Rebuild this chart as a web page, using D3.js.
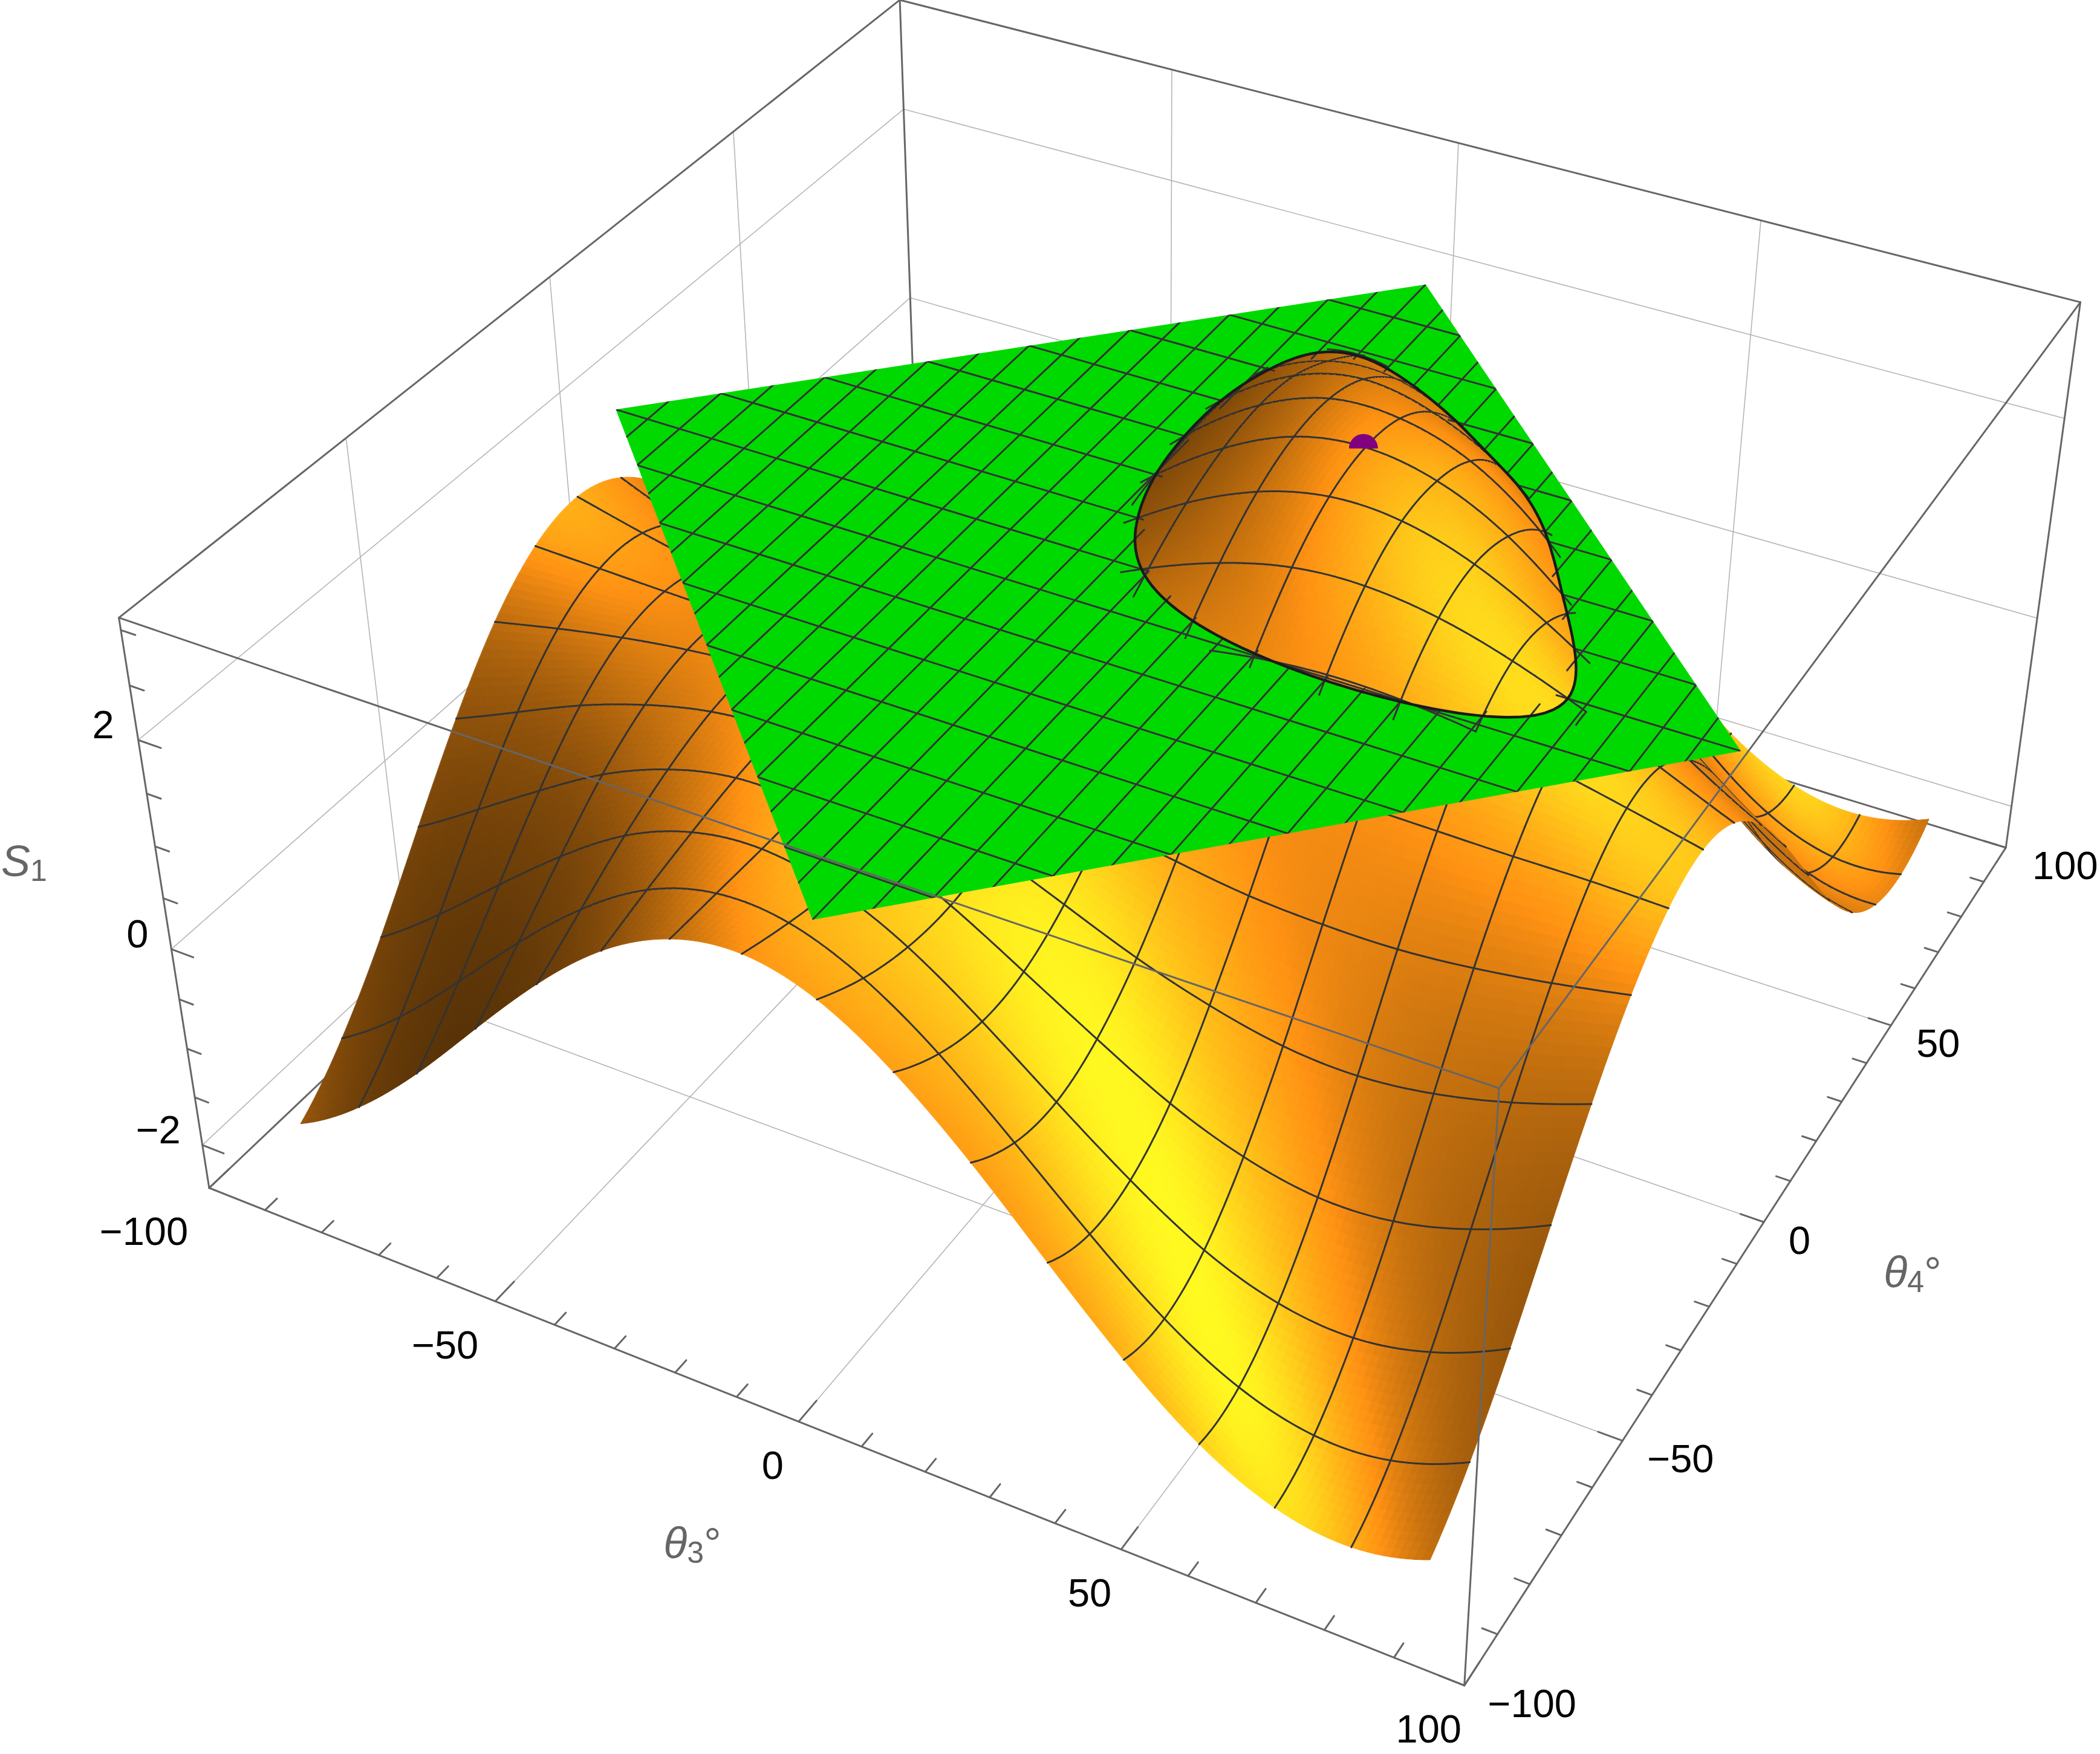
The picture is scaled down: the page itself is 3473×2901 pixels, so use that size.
<!DOCTYPE html>
<html>
<head>
<meta charset="utf-8">
<script src="https://cdnjs.cloudflare.com/ajax/libs/d3/7.8.5/d3.min.js"></script>
<style>
body { margin: 0; background: #fff; }
text { font-family: "Liberation Sans", Arial, sans-serif; }
</style>
</head>
<body>
<svg id="chart" width="3473" height="2901"></svg>
<script>
var W = 3473, H = 2901;

var zLimits = [-2.455, 3.11];
var thetaNodes = [-90, -78.75, -67.5, -56.25, -45, -33.75, -22.5, -11.25, 0, 11.25, 22.5, 33.75, 45, 56.25, 67.5, 78.75, 90];
var thetaTicksMajor = [-100, -50, 0, 50, 100];
var thetaTicksMinor = [-100, -90, -80, -70, -60, -50, -40, -30, -20, -10, 0, 10, 20, 30, 40, 50, 60, 70, 80, 90, 100];
var zTicksMajor = [-2, 0, 2];
var zTicksMinor = [-2, -1.5, -1, -0.5, 0, 0.5, 1, 1.5, 2, 2.5, 3];
var gridThetas = [-50, 0, 50];

// S1, one row per theta4 node, one column per theta3 node
var S1 = [
  [-1.97, -1.54, -0.94, -0.24, 0.44, 1.00, 1.35, 1.45, 1.27, 0.84, 0.24, -0.46, -1.14, -1.70, -2.05, -2.15, -1.97],
  [-1.54, -1.07, -0.47, 0.16, 0.72, 1.14, 1.34, 1.30, 1.02, 0.55, -0.05, -0.68, -1.25, -1.66, -1.86, -1.82, -1.54],
  [-0.94, -0.47, 0.06, 0.57, 1.00, 1.26, 1.33, 1.19, 0.87, 0.40, -0.13, -0.64, -1.07, -1.33, -1.40, -1.26, -0.94],
  [-0.24, 0.16, 0.57, 0.95, 1.22, 1.36, 1.33, 1.14, 0.83, 0.43, 0.02, -0.36, -0.63, -0.77, -0.74, -0.55, -0.24],
  [0.44, 0.72, 1.00, 1.22, 1.37, 1.41, 1.33, 1.16, 0.92, 0.64, 0.36, 0.14, -0.01, -0.05, 0.03, 0.20, 0.44],
  [1.01, 1.15, 1.27, 1.36, 1.41, 1.40, 1.35, 1.25, 1.12, 0.98, 0.86, 0.76, 0.72, 0.72, 0.78, 0.88, 1.01],
  [1.38, 1.36, 1.34, 1.33, 1.34, 1.35, 1.36, 1.38, 1.40, 1.42, 1.43, 1.43, 1.42, 1.41, 1.40, 1.40, 1.38],
  [1.50, 1.34, 1.21, 1.15, 1.17, 1.25, 1.38, 1.55, 1.72, 1.87, 1.98, 2.03, 2.01, 1.93, 1.81, 1.66, 1.50],
  [1.33, 1.07, 0.89, 0.84, 0.92, 1.12, 1.40, 1.72, 2.03, 2.28, 2.44, 2.47, 2.38, 2.19, 1.93, 1.63, 1.33],
  [0.89, 0.59, 0.42, 0.44, 0.64, 0.98, 1.42, 1.87, 2.28, 2.58, 2.73, 2.70, 2.50, 2.16, 1.73, 1.29, 0.89],
  [0.26, -0.03, -0.12, 0.02, 0.37, 0.86, 1.43, 1.99, 2.44, 2.74, 2.83, 2.71, 2.39, 1.87, 1.27, 0.72, 0.26],
  [-0.45, -0.67, -0.64, -0.35, 0.14, 0.77, 1.44, 2.05, 2.50, 2.75, 2.75, 2.54, 2.08, 1.37, 0.61, -0.01, -0.45],
  [-1.14, -1.24, -1.07, -0.63, -0.01, 0.72, 1.44, 2.04, 2.44, 2.59, 2.46, 2.12, 1.51, 0.66, -0.15, -0.76, -1.14],
  [-1.70, -1.66, -1.33, -0.77, -0.04, 0.72, 1.42, 1.95, 2.24, 2.25, 1.96, 1.40, 0.66, -0.18, -0.91, -1.44, -1.70],
  [-2.05, -1.86, -1.40, -0.74, 0.03, 0.78, 1.40, 1.82, 1.96, 1.77, 1.30, 0.63, -0.15, -0.91, -1.54, -1.94, -2.05],
  [-2.15, -1.82, -1.26, -0.55, 0.20, 0.87, 1.38, 1.63, 1.59, 1.26, 0.70, -0.01, -0.76, -1.44, -1.94, -2.19, -2.15],
  [-1.97, -1.54, -0.94, -0.24, 0.44, 1.00, 1.35, 1.45, 1.27, 0.84, 0.24, -0.46, -1.14, -1.70, -2.05, -2.15, -1.97]
];

var planeLevel = 2.0;
var planeCorners = [[-90, 0], [0, 90], [90, 0], [0, -90]];
var planeThetaA = d3.range(-84.375, 85, 5.625);
var planeThetaB = thetaNodes.slice(1, 16);
var markerPoint = [21, 25, 2.75];

// tweaks per tick label, Mathematica centres them a bit unevenly
var frontDx = [-108, -83, -43, -52, -59], rightDx = [112, 96, 59, 78, 98], zDx = [-73, -56, -58];
var titles = [[40, 1424, "S", "1", ""], [1145, 2552, "\u03b8", "3", "\u00b0"], [3163, 2104, "\u03b8", "4", "\u00b0"]];

// where the box corners sit in the picture, the camera is fitted to these
var boxCorners = [
  [-100, -100, zLimits[0], 346, 1965],
  [100, -100, zLimits[0], 2421.7, 2787.7],
  [100, 100, zLimits[0], 3317.3, 1401.7],
  [-100, -100, zLimits[1], 196.7, 1021.3],
  [100, -100, zLimits[1], 2479, 1800],
  [100, 100, zLimits[1], 3440.7, 500],
  [-100, 100, zLimits[1], 1488, 0]
];

function fitCamera(rows) {
  var A = [], B = [];
  rows.forEach(function(r) {
    var X = r[0] / 100, Y = r[1] / 100, Z = (r[2] - 0.3) / 2.75, x = r[3] / 1000, y = r[4] / 1000;
    A.push([X, Y, Z, 1, 0, 0, 0, 0, -x * X, -x * Y, -x * Z]); B.push(x);
    A.push([0, 0, 0, 0, X, Y, Z, 1, -y * X, -y * Y, -y * Z]); B.push(y);
  });
  var n = 11;
  var M = d3.range(n).map(function(i) {
    return d3.range(n + 1).map(function(j) {
      return d3.sum(A, function(row, k) { return row[i] * (j < n ? row[j] : B[k]); });
    });
  });
  for (var c = 0; c < n; c++) {
    var piv = c;
    for (var i = c + 1; i < n; i++) if (Math.abs(M[i][c]) > Math.abs(M[piv][c])) piv = i;
    var t = M[c]; M[c] = M[piv]; M[piv] = t;
    for (var i = 0; i < n; i++) if (i !== c) {
      var f = M[i][c] / M[c][c];
      for (var j = c; j <= n; j++) M[i][j] -= f * M[c][j];
    }
  }
  return M.map(function(r, i) { return r[n] / r[i]; });
}
var h = fitCamera(boxCorners);

function depth(a, b, z) { return h[8] * a / 100 + h[9] * b / 100 + h[10] * (z - 0.3) / 2.75 + 1; }
function project(a, b, z) {
  var X = a / 100, Y = b / 100, Z = (z - 0.3) / 2.75, w = h[8] * X + h[9] * Y + h[10] * Z + 1;
  return [1000 * (h[0] * X + h[1] * Y + h[2] * Z + h[3]) / w, 1000 * (h[4] * X + h[5] * Y + h[6] * Z + h[7]) / w];
}

function norm(v) { var l = Math.hypot(v[0], v[1], v[2]); return [v[0] / l, v[1] / l, v[2] / l]; }
function dot(u, v) { return u[0] * v[0] + u[1] * v[1] + u[2] * v[2]; }

// camera axes in box coordinates, box ratio is 1:1:0.4
var zRange = zLimits[1] - zLimits[0];
var zm = zRange / 0.4 / 2.75;
var m1 = [h[0] * 2, h[1] * 2, h[2] * zm], m2 = [h[4] * 2, h[5] * 2, h[6] * zm], m3 = [h[8] * 2, h[9] * 2, h[10] * zm];
var cx = W / 2000, cy = H / 2000;
var vRight = norm([m1[0] - cx * m3[0], m1[1] - cx * m3[1], m1[2] - cx * m3[2]]);
var vDown = norm([m2[0] - cy * m3[0], m2[1] - cy * m3[1], m2[2] - cy * m3[2]]);
var vToward = norm([-m3[0], -m3[1], -m3[2]]);

var lightPos = [2, 2, 2];
function shade(n, px, py, back) {
  var l = norm([lightPos[0] - px / W, lightPos[1] - (1 - py / H), lightPos[2]]);
  var nl = Math.max(0, dot(n, l));
  var sp = Math.pow(Math.max(0, dot(n, norm([l[0], l[1], l[2] + 1]))), 6);
  var g = 0.88 * (0.14 + 0.45 * nl + 0.4 * sp);
  if (back) g *= 0.5;
  return d3.rgb(Math.min(255, 255 * 1.75 * g), Math.min(255, 255 * g), 33 * g).formatHex();
}

// resample the table so the surface reads smooth, the table wraps every 180 degrees
var sub = 10, N = 16 * sub + 1;
function weights(i) {
  var s = i / sub, k = Math.min(Math.floor(s), 15), t = s - k, out = [];
  for (var m = -2; m <= 3; m++) {
    var w = 1;
    for (var q = -2; q <= 3; q++) if (q !== m) w *= (t - q) / (m - q);
    out.push([((k + m) % 16 + 16) % 16, w]);
  }
  return out;
}
var W6 = d3.range(N).map(weights);
var fine = new Float64Array(N * N);
for (var j = 0; j < N; j++) for (var i = 0; i < N; i++) {
  var s = 0;
  W6[j].forEach(function(wb) {
    var row = S1[wb[0]];
    W6[i].forEach(function(wa) { s += wb[1] * wa[1] * row[wa[0]]; });
  });
  fine[i + j * N] = s;
}
function fz(i, j) { return fine[i + j * N]; }
var at = d3.scaleLinear().domain([0, N - 1]).range([-90, 90]);
function fAt(a, b) {
  var x = Math.min(N - 1.001, at.invert(a)), y = Math.min(N - 1.001, at.invert(b));
  var i = Math.floor(x), j = Math.floor(y), u = x - i, v = y - j;
  return (1 - u) * (1 - v) * fz(i, j) + u * (1 - v) * fz(i + 1, j) + (1 - u) * v * fz(i, j + 1) + u * v * fz(i + 1, j + 1);
}

function surfNormal(i, j) {
  var P = N - 1, ih = i === P ? 0 : i, jh = j === P ? 0 : j;
  var dzda = (fz((ih + 1) % P, jh) - fz((ih - 1 + P) % P, jh)) / (2 * 180 / P);
  var dzdb = (fz(ih, (jh + 1) % P) - fz(ih, (jh - 1 + P) % P)) / (2 * 180 / P);
  var k = 0.4 / zRange * 200;
  return [-dzda * k, -dzdb * k, 1];
}

var svg = d3.select("#chart");
var defs = svg.append("defs");
var line = d3.line();
function poly(pts) { return line(pts) + "Z"; }

function seg(g, list, stroke, width) {
  g.selectAll("path").data(list).join("path")
    .attr("d", function(d) { return line(d); })
    .attr("fill", "none")
    .attr("stroke", stroke)
    .attr("stroke-width", width)
    .attr("stroke-linecap", "round");
}

var z0 = zLimits[0], z1 = zLimits[1];

// back walls and floor
var gridLines = [];
gridThetas.forEach(function(t) {
  gridLines.push([project(-100, t, z0), project(-100, t, z1)]);
  gridLines.push([project(t, 100, z0), project(t, 100, z1)]);
  gridLines.push([project(t, -100, z0), project(t, 100, z0)]);
  gridLines.push([project(-100, t, z0), project(100, t, z0)]);
});
zTicksMajor.forEach(function(z) {
  gridLines.push([project(-100, -100, z), project(-100, 100, z)]);
  gridLines.push([project(-100, 100, z), project(100, 100, z)]);
});
seg(svg.append("g"), gridLines, "#b5b5b5", 1.6);
seg(svg.append("g"), [
  [project(-100, -100, z1), project(-100, 100, z1), project(100, 100, z1)],
  [project(-100, 100, z1), project(-100, 100, z0)],
  [project(-100, -100, z0), project(-100, 100, z0), project(100, 100, z0)],
  [project(-100, -100, z0), project(-100, -100, z1)],
  [project(100, 100, z0), project(100, 100, z1)]
], "#666", 3);

// surface quads, far ones first
var items = [], quadW = new Float64Array(N * N), domeItems = [];
for (var j = 0; j < N - 1; j++) for (var i = 0; i < N - 1; i++) {
  var c = [[i, j], [i + 1, j], [i + 1, j + 1], [i, j + 1]];
  var pts = c.map(function(q) { return project(at(q[0]), at(q[1]), fz(q[0], q[1])); });
  var w = d3.mean(c, function(q) { return depth(at(q[0]), at(q[1]), fz(q[0], q[1])); });
  var nn = [0, 0, 0];
  c.forEach(function(q) { var v = surfNormal(q[0], q[1]); nn[0] += v[0]; nn[1] += v[1]; nn[2] += v[2]; });
  nn = norm(nn);
  var nv = [dot(nn, vRight), -dot(nn, vDown), dot(nn, vToward)];
  var back = nv[2] < 0;
  if (back) nv = [-nv[0], -nv[1], -nv[2]];
  var it = { w: w, d: poly(pts), fill: shade(nv, d3.mean(pts, function(p) { return p[0]; }), d3.mean(pts, function(p) { return p[1]; }), back) };
  items.push(it);
  quadW[i + j * N] = w;
  if (d3.max(c, function(q) { return fz(q[0], q[1]); }) > planeLevel) domeItems.push(it);
}

// mesh pieces go right after the nearer quad they touch
var meshItems = [];
for (var k = 1; k < 16; k++) {
  var f = k * sub;
  for (var m = 0; m < N - 1; m++) {
    meshItems.push({
      w: Math.min(quadW[(f - 1) + m * N], quadW[f + m * N]) - 1e-7, mesh: true,
      d: line([project(at(f), at(m), fz(f, m)), project(at(f), at(m + 1), fz(f, m + 1))]),
      top: Math.max(fz(f, m), fz(f, m + 1))
    });
    meshItems.push({
      w: Math.min(quadW[m + (f - 1) * N], quadW[m + f * N]) - 1e-7, mesh: true,
      d: line([project(at(m), at(f), fz(m, f)), project(at(m + 1), at(f), fz(m + 1, f))]),
      top: Math.max(fz(m, f), fz(m + 1, f))
    });
  }
}
function drawItems(g, list) {
  g.selectAll("path").data(list).join("path")
    .attr("d", function(d) { return d.d; })
    .attr("fill", function(d) { return d.mesh ? "none" : d.fill; })
    .attr("stroke", function(d) { return d.mesh ? "#333" : d.fill; })
    .attr("stroke-width", function(d) { return d.mesh ? 3 : 1; })
    .attr("stroke-linecap", "round");
}
function farFirst(p, q) { return q.w - p.w; }
drawItems(svg.append("g"), items.concat(meshItems).sort(farFirst));

// green plane, cut to a diamond
var planePts = planeCorners.map(function(c) { return project(c[0], c[1], planeLevel); });
defs.append("clipPath").attr("id", "planeClip").append("path").attr("d", poly(planePts));
var planeG = svg.append("g");
planeG.append("path").attr("d", poly(planePts)).attr("fill", "#00d900");
var planeMesh = [];
planeThetaA.forEach(function(t) { planeMesh.push([project(t, -100, planeLevel), project(t, 100, planeLevel)]); });
planeThetaB.forEach(function(t) { planeMesh.push([project(-100, t, planeLevel), project(100, t, planeLevel)]); });
seg(planeG.append("g").attr("clip-path", "url(#planeClip)"), planeMesh, "#333", 3);

// surface mesh stubs poking out past the rim
drawItems(svg.append("g"), meshItems.filter(function(mi) { return mi.top > planeLevel - 0.07; }));

// rim is where the surface crosses the plane
var cont = d3.contours().size([N, N]).thresholds([planeLevel])(Array.from(fine))[0];
var rimRings = [];
cont.coordinates.forEach(function(pg) {
  pg.forEach(function(ring) {
    rimRings.push(ring.map(function(p) { return project(at(p[0] - 0.5), at(p[1] - 0.5), planeLevel); }));
  });
});
var rimPath = rimRings.map(poly).join("");
defs.append("clipPath").attr("id", "rimClip").append("path").attr("d", rimPath);
var domeAll = domeItems.concat(meshItems.filter(function(mi) { return mi.top > planeLevel - 0.05; })).sort(farFirst);
drawItems(svg.append("g").attr("clip-path", "url(#rimClip)"), domeAll);

// plane mesh stubs just inside the rim
var inner = [];
function stubLine(fixA, t) {
  for (var v = -90; v < 90; v += 1) {
    var p = fixA ? [t, v] : [v, t], q = fixA ? [t, v + 1] : [v + 1, t];
    var fp = fAt(p[0], p[1]), fq = fAt(q[0], q[1]);
    if (Math.abs(p[0]) + Math.abs(p[1]) <= 90 && Math.min(fp, fq) > planeLevel - 0.01 && Math.max(fp, fq) < planeLevel + 0.05)
      inner.push([project(p[0], p[1], planeLevel), project(q[0], q[1], planeLevel)]);
  }
}
planeThetaA.forEach(function(t) { stubLine(true, t); });
planeThetaB.forEach(function(t) { stubLine(false, t); });
seg(svg.append("g"), inner, "#333", 3);

svg.append("path").attr("d", rimPath).attr("fill", "none").attr("stroke", "#1a1a1a").attr("stroke-width", 4.5);

// purple marker, half sunk in the surface
var mp = project(markerPoint[0], markerPoint[1], markerPoint[2]);
svg.append("path")
  .attr("d", "M" + (mp[0] - 24) + "," + (mp[1] + 6) + "A24,24 0 0 1 " + (mp[0] + 24) + "," + (mp[1] + 6) + "Z")
  .attr("fill", "#800080");

// front edges sit over everything
seg(svg.append("g"), [
  [project(-100, -100, z1), project(100, -100, z1), project(100, 100, z1)],
  [project(100, -100, z1), project(100, -100, z0)],
  [project(-100, -100, z0), project(100, -100, z0), project(100, 100, z0)]
], "#666", 3);

var tickLines = [];
thetaTicksMinor.forEach(function(t) {
  var major = thetaTicksMajor.indexOf(t) >= 0;
  tickLines.push([project(t, -100, z0), project(t, -100 + (major ? 4.6 : 2.8), z0)]);
  tickLines.push([project(100, t, z0), project(100 - (major ? 3.6 : 2.2), t, z0)]);
});
zTicksMinor.forEach(function(z) {
  var major = zTicksMajor.indexOf(z) >= 0;
  tickLines.push([project(-100, -100, z), project(-100 + (major ? 3.8 : 2.4), -100, z)]);
});
seg(svg.append("g"), tickLines, "#666", 3);

function fmt(v) { return v < 0 ? "\u2212" + Math.abs(v) : "" + v; }
var lab = svg.append("g").attr("font-size", 65).attr("fill", "#000").attr("text-anchor", "middle").attr("dominant-baseline", "central");
thetaTicksMajor.forEach(function(t, i) {
  var p = project(t, -100, z0);
  lab.append("text").attr("x", p[0] + frontDx[i]).attr("y", p[1] + 72).text(fmt(t));
  var q = project(100, t, z0);
  lab.append("text").attr("x", q[0] + rightDx[i]).attr("y", q[1] + 30).text(fmt(t));
});
zTicksMajor.forEach(function(z, i) {
  var p = project(-100, -100, z);
  lab.append("text").attr("x", p[0] + zDx[i]).attr("y", p[1] - 25).text(fmt(z));
});

var tg = svg.append("g").attr("font-size", 72).attr("fill", "#666").attr("text-anchor", "middle").attr("dominant-baseline", "central");
titles.forEach(function(t) {
  var e = tg.append("text").attr("x", t[0]).attr("y", t[1]);
  e.append("tspan").attr("font-style", "italic").text(t[2]);
  e.append("tspan").attr("font-size", 50).attr("dy", 16).text(t[3]);
  if (t[4]) e.append("tspan").attr("dy", -16).text(t[4]);
});
</script>
</body>
</html>
